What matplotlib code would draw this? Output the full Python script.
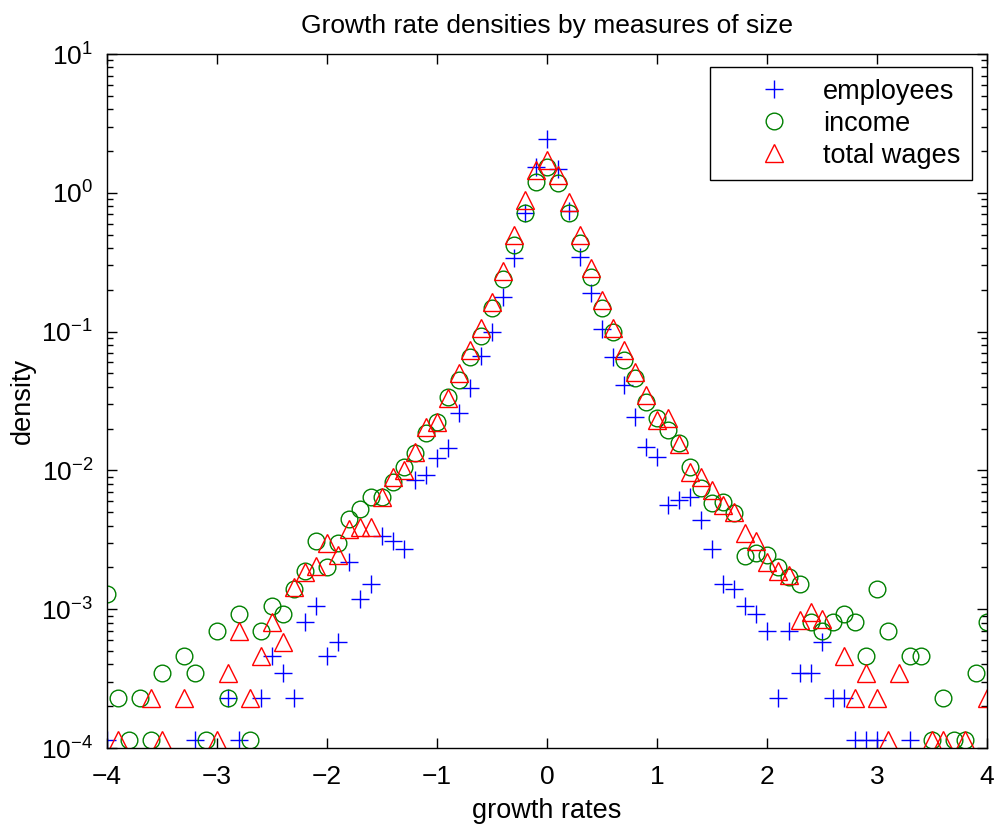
import matplotlib
matplotlib.use("Agg")
import matplotlib.pyplot as plt
from matplotlib.ticker import LogLocator, FixedLocator

plt.rcParams['font.family'] = ['Liberation Sans', 'DejaVu Sans']
plt.rcParams['mathtext.default'] = 'regular'

# ---- data ----
emp_x = [-4.0, -3.2, -2.9, -2.8, -2.6, -2.5, -2.4, -2.3, -2.2, -2.1, -2.0, -1.9, -1.8, -1.7, -1.6,
         -1.5, -1.4, -1.3, -1.2, -1.1, -1.0, -0.9, -0.8, -0.7, -0.6, -0.5, -0.4, -0.3, -0.2, -0.1,
         0.0, 0.1, 0.2, 0.3, 0.4, 0.5, 0.6, 0.7, 0.8, 0.9, 1.0, 1.1, 1.2, 1.3, 1.4, 1.5, 1.6, 1.7,
         1.8, 1.9, 2.0, 2.1, 2.2, 2.3, 2.4, 2.5, 2.6, 2.7, 2.8, 2.9, 3.0, 3.3]
emp_y = [1.15e-4, 1.15e-4, 2.3e-4, 1.15e-4, 2.3e-4, 4.6e-4, 3.5e-4, 2.3e-4, 8.1e-4, 1.05e-3,
         4.6e-4, 5.8e-4, 2.2e-3, 1.18e-3, 1.52e-3, 3.35e-3, 3.1e-3, 2.7e-3, 8.5e-3, 9.3e-3,
         0.0122, 0.0144, 0.0258, 0.039, 0.0667, 0.1, 0.178, 0.337, 0.72, 1.54,
         2.44, 1.48, 0.743, 0.347, 0.19, 0.104, 0.066, 0.0412, 0.0244, 0.0148, 0.0124, 5.64e-3,
         6.12e-3, 6.45e-3, 4.43e-3, 2.7e-3, 1.52e-3, 1.39e-3, 1.05e-3, 9.3e-4, 6.97e-4, 2.3e-4,
         6.97e-4, 3.5e-4, 3.5e-4, 5.8e-4, 2.3e-4, 2.3e-4, 1.15e-4, 1.15e-4, 1.15e-4, 1.15e-4]

inc_x = [-4.0, -3.9, -3.8, -3.7, -3.6, -3.5, -3.3, -3.2, -3.1, -3.0, -2.9, -2.8, -2.7, -2.6, -2.5,
         -2.4, -2.3, -2.2, -2.1, -2.0, -1.9, -1.8, -1.7, -1.6, -1.5, -1.4, -1.3, -1.2, -1.1, -1.0,
         -0.9, -0.8, -0.7, -0.6, -0.5, -0.4, -0.3, -0.2, -0.1, 0.0, 0.1, 0.2, 0.3, 0.4, 0.5, 0.6,
         0.7, 0.8, 0.9, 1.0, 1.1, 1.2, 1.3, 1.4, 1.5, 1.6, 1.7, 1.8, 1.9, 2.0, 2.1, 2.2, 2.3, 2.4,
         2.5, 2.6, 2.7, 2.8, 2.9, 3.0, 3.1, 3.3, 3.4, 3.5, 3.6, 3.7, 3.8, 3.9, 4.0]
inc_y = [1.28e-3, 2.3e-4, 1.15e-4, 2.3e-4, 1.15e-4, 3.5e-4, 4.6e-4, 3.5e-4, 1.15e-4, 6.97e-4,
         2.3e-4, 9.3e-4, 1.15e-4, 6.97e-4, 1.05e-3, 9.3e-4, 1.39e-3, 1.9e-3, 3.1e-3, 2.0e-3,
         3.0e-3, 4.45e-3, 5.3e-3, 6.45e-3, 6.45e-3, 8.3e-3, 0.0106, 0.0134, 0.0185, 0.0224,
         0.034, 0.0448, 0.066, 0.093, 0.147, 0.238, 0.421, 0.711, 1.2, 1.54, 1.17, 0.711, 0.432,
         0.249, 0.147, 0.1, 0.0624, 0.046, 0.0313, 0.0237, 0.0196, 0.0158, 0.0106, 7.43e-3,
         5.8e-3, 5.96e-3, 4.9e-3, 2.42e-3, 2.53e-3, 2.45e-3, 2.0e-3, 1.7e-3, 1.52e-3, 8.1e-4,
         6.97e-4, 8.1e-4, 9.3e-4, 8.1e-4, 4.6e-4, 1.39e-3, 6.97e-4, 4.6e-4, 4.6e-4, 1.15e-4,
         2.3e-4, 1.15e-4, 1.15e-4, 3.5e-4, 8.1e-4]

wag_x = [-3.9, -3.6, -3.5, -3.3, -3.0, -2.9, -2.8, -2.7, -2.6, -2.5, -2.4, -2.3, -2.2, -2.1, -2.0,
         -1.9, -1.8, -1.7, -1.6, -1.5, -1.4, -1.3, -1.2, -1.1, -1.0, -0.9, -0.8, -0.7, -0.6, -0.5,
         -0.4, -0.3, -0.2, -0.1, 0.0, 0.1, 0.2, 0.3, 0.4, 0.5, 0.6, 0.7, 0.8, 0.9, 1.0, 1.1, 1.2,
         1.3, 1.4, 1.5, 1.6, 1.7, 1.8, 1.9, 2.0, 2.1, 2.2, 2.3, 2.4, 2.5, 2.7, 2.8, 2.9, 3.0, 3.1,
         3.2, 3.5, 3.6, 3.8, 4.0]
wag_y = [1.15e-4, 2.3e-4, 1.15e-4, 2.3e-4, 1.15e-4, 3.5e-4, 7.0e-4, 2.3e-4, 4.6e-4, 8.1e-4,
         5.8e-4, 1.44e-3, 1.85e-3, 2.05e-3, 3.0e-3, 2.45e-3, 3.8e-3, 3.9e-3, 3.9e-3, 6.45e-3,
         9.0e-3, 0.01, 0.0136, 0.0207, 0.0224, 0.033, 0.0501, 0.0737, 0.106, 0.164, 0.275, 0.497,
         0.887, 1.46, 1.72, 1.34, 0.863, 0.497, 0.286, 0.169, 0.107, 0.0737, 0.0514, 0.0349,
         0.023, 0.0237, 0.0156, 9.8e-3, 9.0e-3, 7.2e-3, 5.64e-3, 5.05e-3, 3.53e-3, 3.1e-3,
         2.2e-3, 1.87e-3, 1.76e-3, 8.35e-4, 9.6e-4, 8.45e-4, 4.6e-4, 2.3e-4, 3.5e-4, 2.3e-4,
         1.15e-4, 3.5e-4, 1.15e-4, 1.15e-4, 1.15e-4, 2.3e-4]

series_labels = ['employees', 'income', 'total wages']
x_ticks = [-4, -3, -2, -1, 0, 1, 2, 3, 4]
title_text = 'Growth rate densities by measures of size'
xlabel_text = 'growth rates'
ylabel_text = 'density'

# ---- figure ----
fig = plt.figure(figsize=(10.02, 8.25), dpi=100)
ax = fig.add_axes([0.1068, 0.0933, 0.985 - 0.1068, 0.9345 - 0.0933])

ax.plot(emp_x, emp_y, linestyle='none', marker='+', color=(0, 0, 1),
        markersize=13.5, markeredgewidth=1.0, label=series_labels[0])
ax.plot(inc_x, inc_y, linestyle='none', marker='o', markerfacecolor='none',
        markeredgecolor=(0, 0.5, 0), markersize=12, markeredgewidth=1.0, label=series_labels[1])
ax.plot(wag_x, wag_y, linestyle='none', marker='^', markerfacecolor='none',
        markeredgecolor=(1, 0, 0), markersize=12.5, markeredgewidth=1.0, label=series_labels[2])

ax.set_yscale('log')
ax.set_xlim(-4, 4)
ax.set_ylim(1e-4, 1e1)
ax.xaxis.set_major_locator(FixedLocator(x_ticks))
ax.yaxis.set_major_locator(LogLocator(base=10, numticks=10))
ax.yaxis.set_minor_locator(LogLocator(base=10, subs=range(2, 10), numticks=20))

ax.tick_params(which='both', direction='in', top=True, right=True, labelsize=19,
               width=1.0, colors='black')
ax.tick_params(which='major', length=7)
ax.tick_params(which='minor', length=4)
ax.tick_params(axis='x', pad=12)
ax.tick_params(axis='y', pad=10)
for s in ax.spines.values():
    s.set_linewidth(1.0)

ax.set_title(title_text, fontsize=19, pad=15)
ax.set_xlabel(xlabel_text, fontsize=19.5, labelpad=7)
ax.set_ylabel(ylabel_text, fontsize=19.5, labelpad=4)

leg = ax.legend(loc='upper right', bbox_to_anchor=(0.983, 0.981), fontsize=19.5,
                frameon=True, fancybox=False, edgecolor='black', framealpha=1,
                handlelength=3.85, handletextpad=-0.1, borderpad=0.42, labelspacing=0.22,
                borderaxespad=0.0)
leg.get_frame().set_linewidth(1.0)

fig.savefig('out.png', dpi=100)
